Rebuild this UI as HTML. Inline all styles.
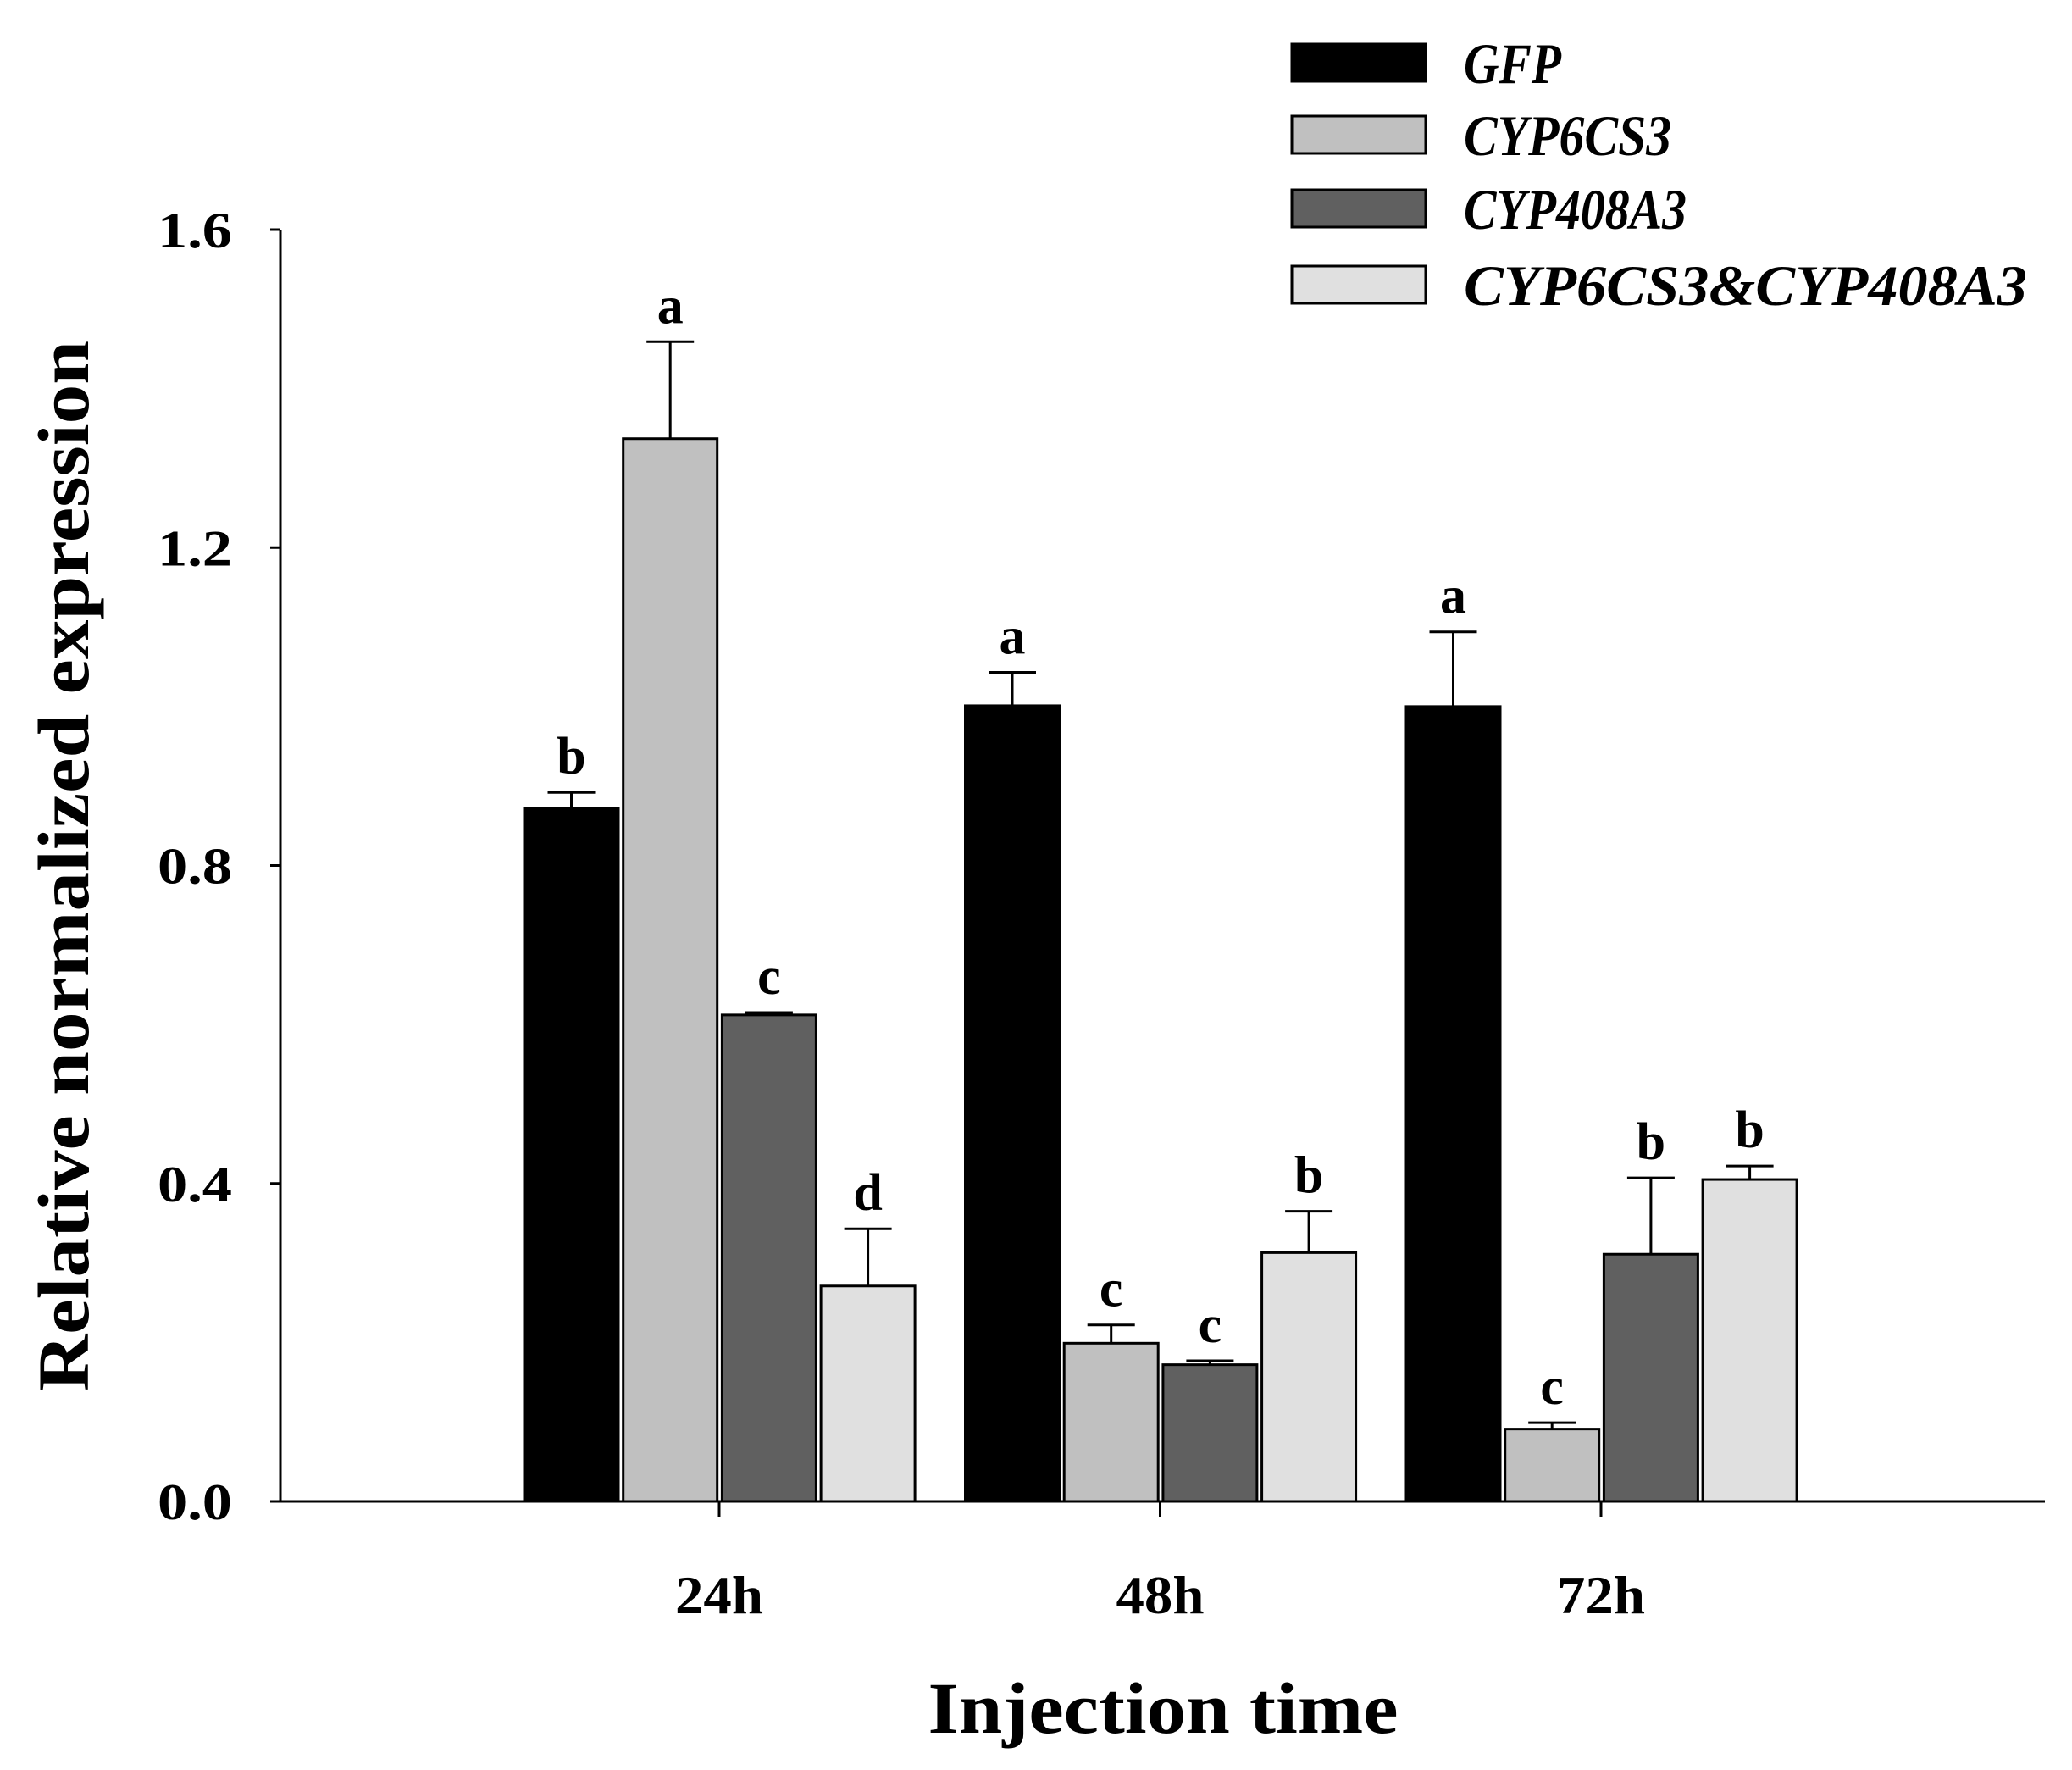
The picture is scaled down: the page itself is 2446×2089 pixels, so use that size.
<!DOCTYPE html>
<html><head><meta charset="utf-8"><style>
html,body{margin:0;padding:0;background:#fff;}
svg{display:block;font-family:"Liberation Serif",serif;}
</style></head><body>
<svg id="chart" width="2446" height="2089" viewBox="0 0 2446 2089" xmlns="http://www.w3.org/2000/svg">
<g id="axes"></g>
<g id="bars"></g>
<g id="legend"></g>
<text x="0" y="0" transform="translate(104,1022) rotate(-90)" text-anchor="middle" font-size="86" font-weight="bold" textLength="1240" lengthAdjust="spacingAndGlyphs">Relative normalized expression</text>
<text x="1373" y="2045" text-anchor="middle" font-size="86" font-weight="bold" textLength="555" lengthAdjust="spacingAndGlyphs">Injection time</text>
</svg>
<script>
const categories = ["24h","48h","72h"];
const seriesNames = ["GFP","CYP6CS3","CYP408A3","CYP6CS3&CYP408A3"];
const gfp = [0.872, 1.001, 1.000];
const cs3 = [1.337, 0.199, 0.091];
const a408 = [0.612, 0.172, 0.311];
const combo = [0.271, 0.313, 0.405];
const gfpErr = [0.020, 0.042, 0.094];
const cs3Err = [0.122, 0.023, 0.008];
const a408Err = [0.003, 0.005, 0.096];
const comboErr = [0.072, 0.052, 0.017];
const gfpLetters = ["b","a","a"];
const cs3Letters = ["a","c","c"];
const a408Letters = ["c","c","b"];
const comboLetters = ["d","b","b"];
const yTicks = [0.0, 0.4, 0.8, 1.2, 1.6];
const yTickLabels = ["0.0","0.4","0.8","1.2","1.6"];

const NS = "http://www.w3.org/2000/svg";
const X0 = 331, X1 = 2414, Y0 = 1772, YTOP = 271;
const y = v => Y0 - v / 1.6 * (Y0 - YTOP);
const xc = i => 849 + i * 520.5;
const BW = 111, STEP = 116.7;
const colors = ["#000000","#c0c0c0","#606060","#e0e0e0"];
function mk(tag, attrs, parent) {
  const e = document.createElementNS(NS, tag);
  for (const k in attrs) e.setAttribute(k, attrs[k]);
  parent.appendChild(e); return e;
}
const axes = document.getElementById("axes");
let l = mk("line", {x1:X0, y1:YTOP, x2:X0, y2:Y0+1, stroke:"#000", "stroke-width":3}, axes);


l = mk("line", {x1:X0-1, y1:Y0, x2:X1, y2:Y0, stroke:"#000", "stroke-width":3}, axes);


yTicks.forEach((t, i) => {
  const tk = mk("line", {x1:X0-12, y1:y(t), x2:X0, y2:y(t), stroke:"#000", "stroke-width":3}, axes);
  
  
  const tx = mk("text", {x:274, y:y(t)+21, "text-anchor":"end", "font-size":60, "font-weight":"bold", textLength:88, lengthAdjust:"spacingAndGlyphs"}, axes);
  tx.textContent = yTickLabels[i];
  
  
});
categories.forEach((c, i) => {
  const tk = mk("line", {x1:xc(i), y1:Y0, x2:xc(i), y2:Y0+18, stroke:"#000", "stroke-width":3}, axes);
  
  
  const tx = mk("text", {x:xc(i), y:1904, "text-anchor":"middle", "font-size":64, "font-weight":"bold", textLength:104, lengthAdjust:"spacingAndGlyphs"}, axes);
  tx.textContent = c;
  
  
});
const bars = document.getElementById("bars");
const vals = [gfp, cs3, a408, combo];
const errs = [gfpErr, cs3Err, a408Err, comboErr];
const lets = [gfpLetters, cs3Letters, a408Letters, comboLetters];
categories.forEach((c, i) => {
  vals.forEach((arr, s) => {
    const left = xc(i) - 230 + s * STEP;
    const top = y(arr[i]);
    const r = mk("rect", {x:left, y:top, width:BW, height:Y0-top, fill:colors[s], stroke:"#000", "stroke-width":3}, bars);
    
    
    const cx = left + BW/2, et = y(arr[i] + errs[s][i]);
    const e1 = mk("line", {x1:cx, y1:top, x2:cx, y2:et, stroke:"#000", "stroke-width":3}, bars);
    
    
    const e2 = mk("line", {x1:cx-28, y1:et, x2:cx+28, y2:et, stroke:"#000", "stroke-width":3}, bars);
    
    
    const t = mk("text", {x:cx, y:et-22, "text-anchor":"middle", "font-size":62, "font-weight":"bold"}, bars);
    t.textContent = lets[s][i];
    
    
  });
});
const legend = document.getElementById("legend");
const ly = [74, 159, 246, 336];
const lw = [115, 245, 263, 665];
seriesNames.forEach((n, s) => {
  const r = mk("rect", {x:1525, y:ly[s]-22, width:158, height:44, fill:colors[s], stroke:"#000", "stroke-width":3}, legend);
  
  
  const t = mk("text", {x:1728, y:ly[s]+24, "font-size":68, "font-style":"italic", "font-weight":"bold", textLength:lw[s], lengthAdjust:"spacingAndGlyphs"}, legend);
  t.textContent = n;
  
  
});
</script>
</body></html>
